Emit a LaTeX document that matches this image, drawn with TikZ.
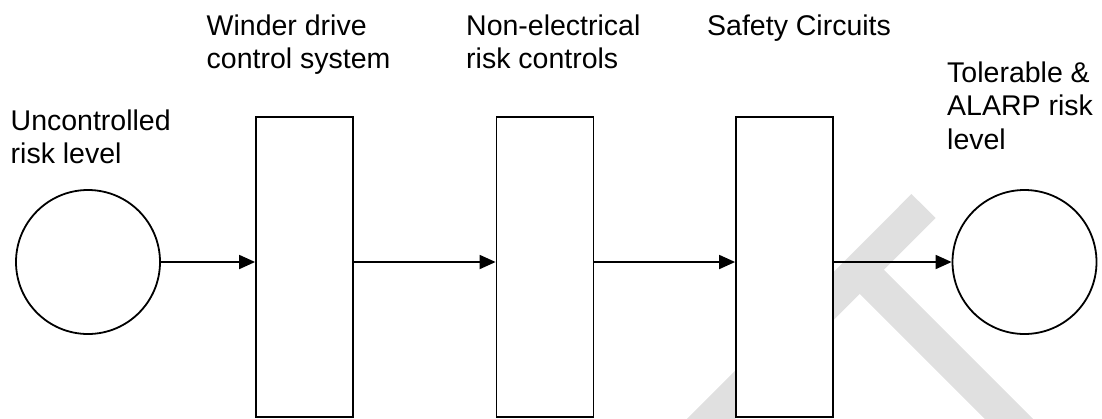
\documentclass[tikz,border=0pt]{standalone}
\usepackage{fontspec}
\setmainfont{Liberation Sans}
\usetikzlibrary{arrows.meta}
\begin{document}
\begin{tikzpicture}[x=1pt,y=-1pt,
  lw/.style={line width=1.8pt},
  riskcircle/.style={draw,lw,circle,minimum size=144pt,inner sep=0pt,fill=white},
  stage/.style={draw,lw,rectangle,minimum width=97pt,minimum height=300pt,inner sep=0pt,fill=white},
  flow/.style={lw,-{Triangle[length=16pt,width=14pt]}},
  lab/.style={anchor=base west,align=left,inner sep=0pt,font=\fontsize{28.5}{33.5}\selectfont},
  wmark/.style={line width=34pt,color=black!12}
]
\useasboundingbox (0,0) rectangle (1102,418);
% watermark
\begin{scope}
\clip (0,0) rectangle (1102,418);
\draw[wmark] (923.5,206) -- (640,490);
\draw[wmark] (859.75,269.75) -- (1080,490);
\end{scope}
% shapes
\node[riskcircle] (c1) at (88,262) {};
\node[stage] (r1) at (304.5,267) {};
\node[stage] (r2) at (545,267) {};
\node[stage] (r3) at (784.5,267) {};
\node[riskcircle] (c2) at (1024.5,262) {};
% connectors
\draw[flow] (c1.east) -- (r1.west |- c1.east);
\draw[flow] (r1.east |- c1.east) -- (r2.west |- c1.east);
\draw[flow] (r2.east |- c1.east) -- (r3.west |- c1.east);
\draw[flow] (r3.east |- c1.east) -- (c2.west);
% labels (anchor = baseline of last line)
\node[lab] (ulab) at (10.5,163.5) {Uncontrolled\\risk level};
\node[lab] (wlab) at (206.5,68.5) {Winder drive\\control system};
\node[lab] (nlab) at (466,68.5) {Non-electrical\\risk controls};
\node[lab] (slab) at (707,35) {Safety Circuits};
\node[lab] (tlab) at (947,149) {Tolerable \&\\ALARP risk\\level};
\end{tikzpicture}
\end{document}
